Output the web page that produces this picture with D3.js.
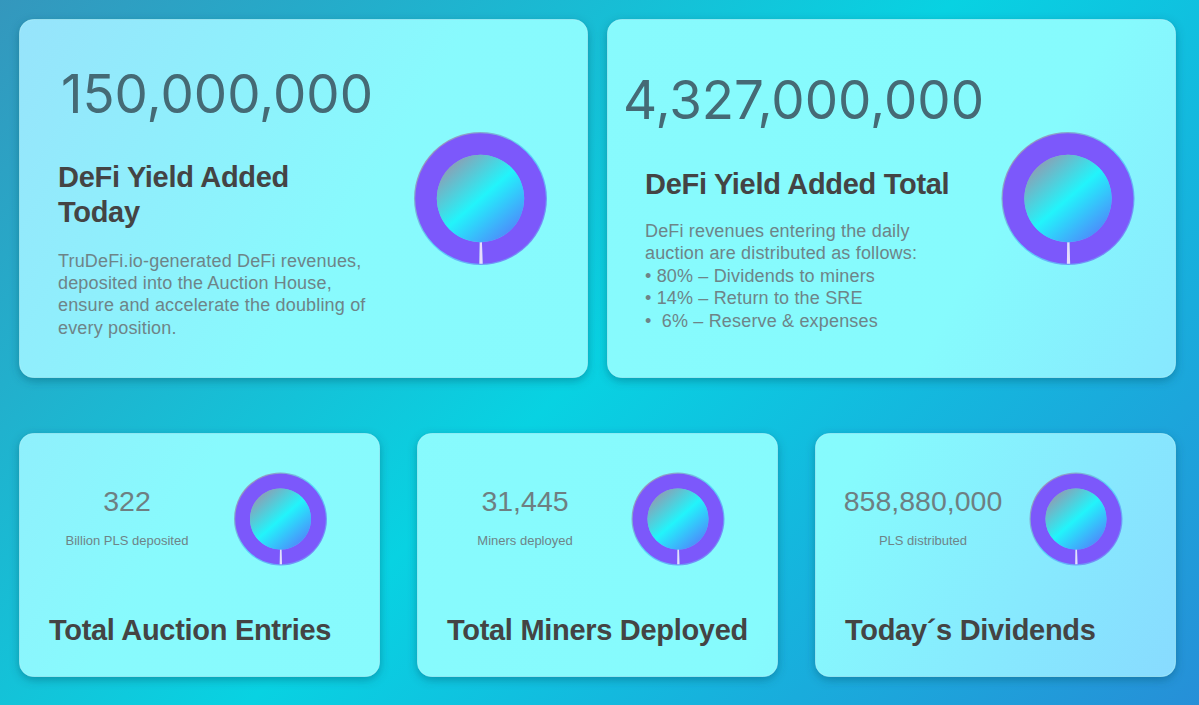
<!DOCTYPE html>
<html>
<head>
<meta charset="utf-8">
<script src="https://cdn.jsdelivr.net/npm/d3@7"></script>
<style>
  html, body { margin: 0; padding: 0; overflow: hidden; }
  svg { display: block; }
  text { font-family: "Liberation Sans", Arial, sans-serif; white-space: pre; }
</style>
</head>
<body>
<div id="chart"></div>
<script>
// chart values
var heroValues = [150000000, 4327000000];
var heroTitles = [["DeFi Yield Added", "Today"], ["DeFi Yield Added Total"]];
var heroBodies = [
  ["TruDeFi.io-generated DeFi revenues,", "deposited into the Auction House,", "ensure and accelerate the doubling of", "every position."],
  ["DeFi revenues entering the daily", "auction are distributed as follows:", "• 80% – Dividends to miners", "• 14% – Return to the SRE", "•  6% – Reserve & expenses"]
];
var statValues = [322, 31445, 858880000];
var statCaptions = ["Billion PLS deposited", "Miners deployed", "PLS distributed"];
var statTitles = ["Total Auction Entries", "Total Miners Deployed", "Today´s Dividends"];
var donutShares = [99.2, 0.8];

var width = 1199, height = 705;
var formatter = d3.format(",");

var svg = d3.select("#chart").append("svg").attr("width", width).attr("height", height);
var defs = svg.append("defs");

function linear(id, x1, y1, x2, y2, stops, units) {
  var g = defs.append("linearGradient").attr("id", id)
    .attr("x1", x1).attr("y1", y1).attr("x2", x2).attr("y2", y2);
  if (units) g.attr("gradientUnits", units);
  stops.forEach(function(s) {
    g.append("stop").attr("offset", s[0]).attr("stop-color", s[1]);
  });
}

linear("pageBg", 60, -190, 1140, 895, [[0, "#3a8fb8"], [0.5, "#08d2e2"], [1, "#2a86d6"]], "userSpaceOnUse");
linear("cardBg", 0, 0, 1199, 705, [[0, "#98e2fb"], [0.3, "#88fafd"], [0.7, "#86fbfd"], [1, "#88d8ff"]], "userSpaceOnUse");
linear("coreBg", 0.15, 0.1, 0.85, 0.9, [[0, "#8c9fb4"], [0.5, "#22f4fb"], [1, "#4c8cfb"]]);
linear("rimBg", 0.1, 0.1, 0.9, 0.9, [[0, "#a08cb4"], [0.5, "#58d8fb"], [1, "#7a7cf6"]]);

var shadow = defs.append("filter").attr("id", "cardShadow")
  .attr("x", "-10%").attr("y", "-10%").attr("width", "120%").attr("height", "125%");
shadow.append("feDropShadow").attr("dx", 0).attr("dy", 3).attr("stdDeviation", 5)
  .attr("flood-color", "#0a4a60").attr("flood-opacity", 0.4);

svg.append("rect").attr("width", width).attr("height", height).attr("fill", "url(#pageBg)");

function card(x, y, w, h) {
  svg.append("rect").attr("x", x + 0.5).attr("y", y + 0.5).attr("width", w - 1).attr("height", h - 1)
    .attr("rx", 14).attr("fill", "url(#cardBg)")
    .attr("stroke", "#b4f4fa").attr("stroke-opacity", 0.6)
    .attr("filter", "url(#cardShadow)");
}

function donut(cx, cy, outer, inner) {
  var g = svg.append("g").attr("transform", "translate(" + cx + "," + cy + ")");
  g.append("circle").attr("r", outer).attr("fill", "url(#rimBg)");
  var half = Math.PI * donutShares[1] / (donutShares[0] + donutShares[1]);
  var tilt = 0.008;
  var pie = d3.pie().sort(null)
    .startAngle(Math.PI + half - tilt).endAngle(3 * Math.PI + half - tilt);
  var arc = d3.arc().innerRadius(inner).outerRadius(outer - 1.2);
  g.selectAll("path").data(pie(donutShares)).join("path")
    .attr("d", arc)
    .attr("fill", function(d, i) { return i === 0 ? "#7c58fb" : "#e8dcfb"; });
  g.append("circle").attr("r", inner).attr("fill", "url(#coreBg)");
}

function label(x, y, str, size, color, opts) {
  opts = opts || {};
  var t = svg.append("text").attr("x", x).attr("y", y).text(str)
    .attr("font-size", size).attr("fill", color)
    .attr("font-weight", opts.weight || 400)
    .attr("text-anchor", opts.anchor || "start");
  if (opts.family) t.style("font-family", opts.family);
  if (opts.spacing) t.attr("letter-spacing", opts.spacing);
  if (opts.length) t.attr("textLength", opts.length).attr("lengthAdjust", "spacingAndGlyphs");
  return t;
}

// top row
var heroCards = [
  {x: 19, w: 569, numX: 61, numY: 113, numLen: 312, textX: 58, titleY: 187, bodyY: 266.5, donutX: 480.5},
  {x: 607, w: 569, numX: 623, numY: 119, numLen: 361, textX: 645, titleY: 194, bodyY: 237, donutX: 1068}
];
heroCards.forEach(function(c, i) {
  card(c.x, 19, c.w, 359);
  label(c.numX, c.numY, formatter(heroValues[i]), 54, "#456a75",
    {family: "Inter, sans-serif", length: c.numLen});
  heroTitles[i].forEach(function(line, k) {
    label(c.textX, c.titleY + k * 35, line, 29, "#444444", {weight: 700, spacing: -0.3});
  });
  heroBodies[i].forEach(function(line, k) {
    label(c.textX, c.bodyY + k * 22.4, line, 18, "#6e8488", {spacing: 0.17});
  });
  donut(c.donutX, 198.5, 66.5, 43.7);
});

// bottom row
var statCards = [
  {x: 19, centerX: 127, titleX: 49, donutX: 280.5},
  {x: 417, centerX: 525, titleX: 447, donutX: 678},
  {x: 815, centerX: 923, titleX: 845, donutX: 1076}
];
statCards.forEach(function(c, i) {
  card(c.x, 433, 361, 244);
  label(c.centerX, 510.5, formatter(statValues[i]), 28.5, "#6e7f82", {anchor: "middle"});
  label(c.centerX, 545, statCaptions[i], 13, "#6e8488", {anchor: "middle"});
  label(c.titleX, 640, statTitles[i], 29, "#444444", {weight: 700, spacing: -0.3});
  donut(c.donutX, 519, 46.5, 30.5);
});
</script>
</body>
</html>
